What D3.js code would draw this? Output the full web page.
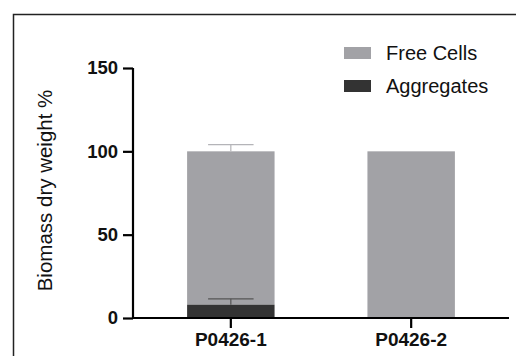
<!DOCTYPE html>
<html>
<head>
<meta charset="utf-8">
<script src="https://cdn.jsdelivr.net/npm/d3@7"></script>
<style>
  body { margin: 0; background: #fff; }
  text { font-family: "Liberation Sans", Arial, sans-serif; }
</style>
</head>
<body>
<script>
// data
const categories = ["P0426-1", "P0426-2"];
const aggregates = [8, 0];
const freeCells = [92, 100];
const aggregatesErr = [3.5, 0];
const totalErr = [4, 0];
const yTicks = [0, 50, 100, 150];
const seriesNames = ["Free Cells", "Aggregates"];
const seriesColors = ["#a2a2a6", "#333333"];

const W = 516, H = 356;
let margin = { top: 68, right: 7, bottom: 38, left: 133 },
  width = W - margin.left - margin.right,
  height = H - margin.top - margin.bottom;

let svg = d3.select("body").append("svg")
  .attr("width", W)
  .attr("height", H);

// outer frame (cropped on right/bottom)
svg.append("path")
  .attr("d", "M13.5," + H + "V14.5H" + W)
  .attr("fill", "none")
  .attr("stroke", "#222")
  .attr("stroke-width", 1.5);

let g = svg.append("g")
  .attr("transform", "translate(" + margin.left + "," + margin.top + ")");

let x = d3.scaleBand().domain(categories).range([0, width])
  .paddingInner(0.515).paddingOuter(0.3);
let y = d3.scaleLinear().domain([0, 150]).range([height, 0]);

let rows = categories.map((c, i) => ({ c: c, agg: aggregates[i], free: freeCells[i], ae: aggregatesErr[i], te: totalErr[i] }));

// bars
g.selectAll("rect.free").data(rows).enter().append("rect")
  .attr("x", d => x(d.c))
  .attr("width", x.bandwidth())
  .attr("y", d => y(d.agg + d.free))
  .attr("height", d => y(d.agg) - y(d.agg + d.free))
  .attr("fill", seriesColors[0]);
g.selectAll("rect.agg").data(rows.filter(d => d.agg > 0)).enter().append("rect")
  .attr("x", d => x(d.c))
  .attr("width", x.bandwidth())
  .attr("y", d => y(d.agg))
  .attr("height", d => y(0) - y(d.agg))
  .attr("fill", seriesColors[1]);

// error bars
function errBar(top, err, col, d) {
  let cx = x(d.c) + x.bandwidth() / 2, cw = x.bandwidth() * 0.26;
  g.append("line").attr("x1", cx).attr("x2", cx)
    .attr("y1", y(top)).attr("y2", y(top + err))
    .attr("stroke", col).attr("stroke-width", 1.2);
  g.append("line").attr("x1", cx - cw).attr("x2", cx + cw)
    .attr("y1", y(top + err)).attr("y2", y(top + err))
    .attr("stroke", col).attr("stroke-width", 1.2);
}
rows.forEach(d => {
  if (d.te > 0) errBar(d.agg + d.free, d.te, "#b4b4b8", d);
  if (d.ae > 0) errBar(d.agg, d.ae, "#555", d);
});

// axes
let y_axis = d3.axisLeft(y).tickValues(yTicks).tickSize(10).tickPadding(5);
let x_axis = d3.axisBottom(x).tickSize(10).tickPadding(5);
let y_node = g.append("g").call(y_axis);
let x_node = g.append("g").attr("transform", "translate(0," + height + ")").call(x_axis);
[y_node, x_node].forEach(n => {
  n.select(".domain").attr("stroke", "#000").attr("stroke-width", 2.2);
  n.selectAll(".tick line").attr("stroke", "#000").attr("stroke-width", 2.2);
  n.selectAll("text").attr("fill", "#111").style("font-weight", "bold");
});
y_node.selectAll("text").style("font-size", "18.5px");
x_node.selectAll("text").style("font-size", "19px");
x_node.select(".domain").attr("d", "M0,0H" + width);
y_node.select(".domain").attr("d", "M0,0V" + height);

// y title
svg.append("text")
  .attr("transform", "translate(52," + 190.5 + ") rotate(-90)")
  .attr("text-anchor", "middle")
  .style("font-size", "20.5px")
  .attr("fill", "#111")
  .text("Biomass dry weight %");

// legend
let leg = svg.append("g").attr("transform", "translate(344,47)");
seriesNames.forEach((s, i) => {
  leg.append("rect").attr("x", 0).attr("y", i * 33)
    .attr("width", 27).attr("height", 12).attr("fill", seriesColors[i]);
  leg.append("text").attr("x", 42).attr("y", i * 33 + 6)
    .attr("dy", "0.35em")
    .style("font-size", "20px")
    .attr("fill", "#111")
    .text(s);
});
</script>
</body>
</html>
